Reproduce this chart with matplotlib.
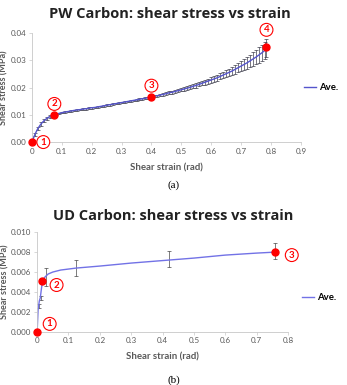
import matplotlib
matplotlib.use("Agg")
from matplotlib import pyplot as plt

# PW carbon: averaged curve with error bars
pw_strain = [0.00, 0.01, 0.02, 0.03, 0.04, 0.05, 0.06, 0.07, 0.08, 0.09,
             0.10, 0.11, 0.12, 0.13, 0.14, 0.15, 0.16, 0.17, 0.18, 0.19,
             0.20, 0.21, 0.22, 0.23, 0.24, 0.25, 0.26, 0.27, 0.28, 0.29,
             0.30, 0.31, 0.32, 0.33, 0.34, 0.35, 0.36, 0.37, 0.38, 0.39,
             0.40, 0.41, 0.42, 0.43, 0.44, 0.45, 0.46, 0.47, 0.48, 0.49,
             0.50, 0.51, 0.52, 0.53, 0.54, 0.55, 0.56, 0.57, 0.58, 0.59,
             0.60, 0.61, 0.62, 0.63, 0.64, 0.65, 0.66, 0.67, 0.68, 0.69,
             0.70, 0.71, 0.72, 0.73, 0.74, 0.75, 0.76, 0.77, 0.78, 0.785]
pw_stress = [0.0000, 0.0028, 0.0050, 0.0066, 0.0078, 0.0087, 0.0094, 0.0099, 0.0102, 0.0105,
             0.0108, 0.0110, 0.0112, 0.0114, 0.0116, 0.0118, 0.0119, 0.0121, 0.0122, 0.0124,
             0.0126, 0.0127, 0.0129, 0.0131, 0.0133, 0.0135, 0.0137, 0.0139, 0.0141, 0.0143,
             0.0145, 0.0147, 0.0149, 0.0151, 0.0153, 0.0155, 0.0157, 0.0159, 0.0161, 0.0163,
             0.0165, 0.0168, 0.0170, 0.0173, 0.0175, 0.0178, 0.0181, 0.0183, 0.0186, 0.0189,
             0.0192, 0.0195, 0.0198, 0.0201, 0.0205, 0.0208, 0.0212, 0.0216, 0.0220, 0.0224,
             0.0228, 0.0232, 0.0236, 0.0241, 0.0246, 0.0251, 0.0256, 0.0261, 0.0267, 0.0273,
             0.0279, 0.0285, 0.0291, 0.0298, 0.0305, 0.0312, 0.0320, 0.0328, 0.0337, 0.0346]
pw_err = [0.0000, 0.0006, 0.0007, 0.0007, 0.0006, 0.0005, 0.0004, 0.0003, 0.0003, 0.0003,
          0.0003, 0.0003, 0.0003, 0.0003, 0.0003, 0.0003, 0.0003, 0.0003, 0.0003, 0.0003,
          0.0003, 0.0003, 0.0003, 0.0003, 0.0003, 0.0003, 0.0003, 0.0003, 0.0003, 0.0003,
          0.0003, 0.0003, 0.0003, 0.0003, 0.0003, 0.0003, 0.0003, 0.0004, 0.0004, 0.0004,
          0.0004, 0.0004, 0.0004, 0.0005, 0.0005, 0.0005, 0.0005, 0.0005, 0.0006, 0.0006,
          0.0006, 0.0006, 0.0007, 0.0007, 0.0007, 0.0008, 0.0008, 0.0008, 0.0009, 0.0009,
          0.0010, 0.0010, 0.0011, 0.0011, 0.0012, 0.0013, 0.0014, 0.0015, 0.0016, 0.0017,
          0.0018, 0.0019, 0.0021, 0.0022, 0.0024, 0.0026, 0.0028, 0.0030, 0.0032, 0.0034]
pw_mark_x = [0.0, 0.075, 0.40, 0.785]
pw_mark_y = [0.0, 0.0100, 0.0165, 0.0348]
pw_labels = ["1", "2", "3", "4"]
pw_label_x = [0.038, 0.075, 0.40, 0.785]
pw_label_y = [0.0000, 0.0140, 0.0207, 0.0412]

# UD carbon
ud_strain = [0.000, 0.003, 0.007, 0.010, 0.014, 0.018, 0.025, 0.035, 0.050, 0.075,
             0.100, 0.125, 0.200, 0.300, 0.420, 0.500, 0.600, 0.700, 0.760]
ud_stress = [0.0000, 0.0022, 0.0031, 0.0034, 0.0044, 0.0052, 0.0055, 0.0058, 0.0060, 0.0062,
             0.0063, 0.0064, 0.0066, 0.0069, 0.0072, 0.0074, 0.0077, 0.0079, 0.0080]
ud_err_x = [0.005, 0.012, 0.028, 0.123, 0.420, 0.760]
ud_err_y = [0.0026, 0.0034, 0.0055, 0.0064, 0.0073, 0.0081]
ud_err = [0.0002, 0.0002, 0.0009, 0.0008, 0.0008, 0.0008]
ud_mark_x = [0.0, 0.017, 0.760]
ud_mark_y = [0.0, 0.0051, 0.0080]
ud_labels = ["1", "2", "3"]
ud_label_x = [0.040, 0.062, 0.812]
ud_label_y = [0.0008, 0.0047, 0.0077]

gray = "#595959"
body_font = "Lato"
title_font = "Open Sans"


def style_axes(ax):
    for s in ("top", "right"):
        ax.spines[s].set_visible(False)
    for s in ("left", "bottom"):
        ax.spines[s].set_color("#c8c8c8")
        ax.spines[s].set_linewidth(0.6)
    ax.tick_params(axis="both", labelsize=5.8, colors="#c8c8c8", labelcolor=gray,
                   length=2, width=0.5, pad=2)
    for lab in ax.get_xticklabels() + ax.get_yticklabels():
        lab.set_family(body_font)


def circled(ax, xs, ys, labels):
    for x, y, t in zip(xs, ys, labels):
        ax.text(x, y, t, color="red", fontsize=7, fontweight="bold", family=body_font,
                ha="center", va="center",
                bbox=dict(boxstyle="circle,pad=0.2", fc="white", ec="red", lw=0.8))


def labels(ax):
    ax.set_xlabel("Shear strain (rad)", fontsize=6.9, fontweight="bold", color=gray,
                  family=body_font, labelpad=6)
    ax.set_ylabel("Shear stress (MPa)", fontsize=6.5, fontweight="bold", color=gray,
                  family=body_font, labelpad=1.5)


fig = plt.figure(figsize=(3.47, 3.85), dpi=100)

# (a) PW carbon
ax1 = fig.add_axes([0.092, 0.631, 0.775, 0.283])
ax1.errorbar(pw_strain, pw_stress, yerr=pw_err, fmt="none", ecolor="#2a2a3a",
             elinewidth=0.45, capsize=1.3, capthick=0.45)
ax1.plot(pw_strain, pw_stress, color="#5555cc", lw=1.0, label="Ave.")
ax1.plot(pw_mark_x, pw_mark_y, "o", color="red", ms=5, zorder=5, clip_on=False)
circled(ax1, pw_label_x, pw_label_y, pw_labels)
ax1.set_xlim(0, 0.9)
ax1.set_ylim(0, 0.04)
ax1.set_xticks([0, 0.1, 0.2, 0.3, 0.4, 0.5, 0.6, 0.7, 0.8, 0.9])
ax1.set_xticklabels(["0", "0.1", "0.2", "0.3", "0.4", "0.5", "0.6", "0.7", "0.8", "0.9"])
ax1.set_yticks([0, 0.01, 0.02, 0.03, 0.04])
ax1.set_yticklabels(["0.00", "0.01", "0.02", "0.03", "0.04"])
style_axes(ax1)
labels(ax1)
ax1.legend(loc="center left", bbox_to_anchor=(1.01, 0.5), frameon=False,
           prop=dict(family=body_font, size=6.9, weight="bold"),
           handlelength=1.3, handletextpad=0.3, borderpad=0, borderaxespad=0)
fig.text(0.49, 0.963, "PW Carbon: shear stress vs strain", ha="center", va="center",
         fontsize=10.5, fontweight="bold", family=title_font, color="#222222")
fig.text(0.5, 0.52, "(a)", ha="center", va="center", fontsize=8, family="Liberation Serif")

# (b) UD carbon
ax2 = fig.add_axes([0.107, 0.138, 0.723, 0.259])
ax2.errorbar(ud_err_x, ud_err_y, yerr=ud_err, fmt="none", ecolor="#333333",
             elinewidth=0.45, capsize=1.6, capthick=0.45)
ax2.plot(ud_strain, ud_stress, color="#7272e6", lw=1.0, label="Ave.")
ax2.plot(ud_mark_x, ud_mark_y, "o", color="red", ms=5, zorder=5, clip_on=False)
circled(ax2, ud_label_x, ud_label_y, ud_labels)
ax2.set_xlim(0, 0.8)
ax2.set_ylim(0, 0.010)
ax2.set_xticks([0, 0.1, 0.2, 0.3, 0.4, 0.5, 0.6, 0.7, 0.8])
ax2.set_xticklabels(["0", "0.1", "0.2", "0.3", "0.4", "0.5", "0.6", "0.7", "0.8"])
ax2.set_yticks([0, 0.002, 0.004, 0.006, 0.008, 0.010])
ax2.set_yticklabels(["0.000", "0.002", "0.004", "0.006", "0.008", "0.010"])
style_axes(ax2)
labels(ax2)
ax2.legend(loc="center left", bbox_to_anchor=(1.055, 0.34), frameon=False,
           prop=dict(family=body_font, size=6.9, weight="bold"),
           handlelength=1.3, handletextpad=0.3, borderpad=0, borderaxespad=0)
fig.text(0.5, 0.44, "UD Carbon: shear stress vs strain", ha="center", va="center",
         fontsize=10.5, fontweight="bold", family=title_font, color="#222222")
fig.text(0.5, 0.013, "(b)", ha="center", va="center", fontsize=8, family="Liberation Serif")

fig.savefig("out.png", dpi=100)
